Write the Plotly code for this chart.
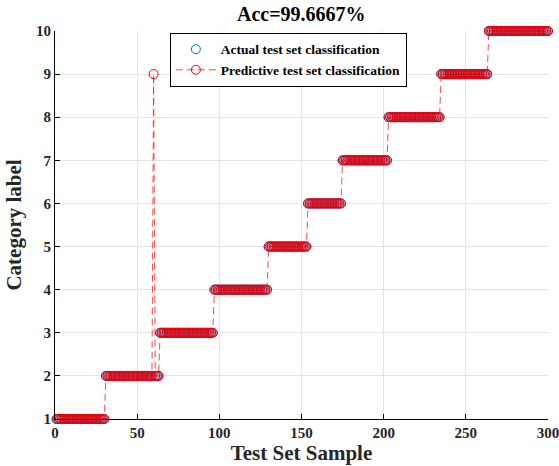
import numpy as np
import plotly.graph_objects as go

# Data
class_labels = [1, 2, 3, 4, 5, 6, 7, 8, 9, 10]
class_counts = [30, 33, 33, 33, 24, 21, 28, 32, 29, 37]
wrong_sample = [60]        # sample index (1-based) misclassified
wrong_pred_label = [9]     # its predicted label
x_ticks = [0, 50, 100, 150, 200, 250, 300]
y_ticks = [1, 2, 3, 4, 5, 6, 7, 8, 9, 10]

actual = np.repeat(class_labels, class_counts)
pred = actual.copy()
for s, p in zip(wrong_sample, wrong_pred_label):
    pred[s - 1] = p
samples = np.arange(1, len(actual) + 1)

font_family = "Liberation Serif, Times New Roman, serif"

fig = go.Figure()
fig.add_trace(go.Scatter(
    x=samples, y=actual, mode="markers",
    name="Actual test set classification", cliponaxis=False,
    marker=dict(symbol="circle-open", size=9, color="#0072BD",
                line=dict(width=1, color="#0072BD")),
))
fig.add_trace(go.Scatter(
    x=samples, y=pred, mode="lines+markers",
    name="Predictive test set classification", cliponaxis=False,
    line=dict(color="rgba(255,40,40,0.85)", width=1, dash="7px,4px"),
    marker=dict(symbol="circle-open", size=9, color="rgb(235,0,10)",
                line=dict(width=1, color="rgb(235,0,10)")),
))

axis_common = dict(
    showgrid=True, gridcolor="#e3e3e3", gridwidth=1,
    showline=True, linecolor="black", linewidth=1,
    ticks="inside", ticklen=5, tickcolor="black",
    tickfont=dict(family=font_family, size=15, color="#262626", weight="bold"),
    zeroline=False, mirror=False, automargin=False,
    ticklabeloverflow="allow",
)

fig.update_layout(
    width=559, height=466,
    margin=dict(l=55, r=11, t=31, b=47),
    paper_bgcolor="white", plot_bgcolor="white",
    title=dict(text="Acc=99.6667%", x=0.539, xanchor="center",
               y=1 - 14 / 466, yanchor="middle",
               font=dict(family=font_family, size=20, color="black", weight="bold")),
    xaxis=dict(range=[0, 300], tickvals=x_ticks,
               title=dict(text="Test Set Sample", standoff=2,
                          font=dict(family=font_family, size=21, color="#262626", weight="bold")),
               **axis_common),
    yaxis=dict(range=[1, 10], tickvals=y_ticks,
               title=dict(text="Category label", standoff=8,
                          font=dict(family=font_family, size=21, color="#262626", weight="bold")),
               **axis_common),
    legend=dict(x=0.233, y=0.995, xanchor="left", yanchor="top",
                bgcolor="white", bordercolor="black", borderwidth=1,
                font=dict(family=font_family, size=13.5, color="black", weight="bold"),
                tracegroupgap=0, itemwidth=40),
    showlegend=True,
)

fig.write_html("out.html")
